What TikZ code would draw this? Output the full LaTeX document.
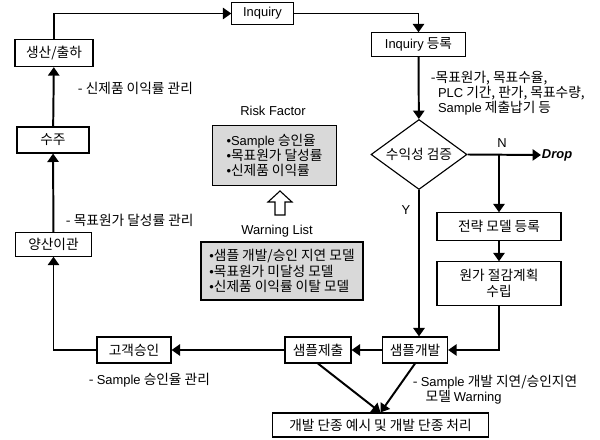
\documentclass[tikz,border=0pt]{standalone}
\usepackage{fontspec}
\setmainfont{Noto Sans CJK KR}[Scale=1.06]
\newfontfamily\latfont{Liberation Sans}
\newcommand{\lat}[1]{{\latfont #1}}
\usetikzlibrary{shapes,arrows.meta,positioning}

\begin{document}
\begin{tikzpicture}[
      x = 0.025cm, y = -0.025cm,
      > = {Triangle[length=6pt,width=8pt]},
      line width = 1.4pt,
      font = \fontsize{9.2}{10.8}\selectfont]
      \tikzstyle{box}=[
      draw = black,
      line width = 0.8pt,
      fill = white,
      inner sep = 1pt,
      minimum height = 0.58cm]
      \tikzstyle{list}=[box, fill = black!15, align = left]
      \tikzstyle{note}=[anchor = west, align = left, inner sep = 0pt]

      \useasboundingbox (0,0) rectangle (600,440);

      % process boxes
      \node[box, minimum width=1.53cm, minimum height=0.53cm] (inq) at (262.5,13.5) {\lat{Inquiry}};
      \node[box, minimum width=2.33cm] (inqreg) at (418.5,44.5) {\lat{Inquiry} 등록};
      \node[box, diamond, aspect=1.37, inner sep=0pt, minimum width=2.4cm, minimum height=1.75cm] (check) at (419,154.5) {수익성 검증};
      \node[note, inner sep=0pt] (drop) at (541,155) {\lat{\textbf{\textit{Drop}}}};
      \node[box, minimum width=3.1cm, minimum height=0.68cm] (strat) at (499,226.5) {전략 모델 등록};
      \node[box, align=center, minimum width=3.1cm, minimum height=1.08cm] (cost) at (499,283.5) {원가 절감계획\\[1pt]수립};
      \node[box, minimum width=1.63cm, minimum height=0.65cm] (dev) at (415,350) {샘플개발};
      \node[box, minimum width=1.65cm, minimum height=0.65cm] (submit) at (318,350) {샘플제출};
      \node[box, minimum width=1.85cm, minimum height=0.65cm] (approve) at (134,350) {고객승인};
      \node[box, minimum width=5.38cm, minimum height=0.6cm] (stop) at (380.5,425) {개발 단종 예시 및 개발 단종 처리};
      \node[box, minimum width=1.88cm] (mass) at (53.5,244.5) {양산이관};
      \node[box, minimum width=1.8cm, minimum height=0.65cm] (order) at (53,140) {수주};
      \node[box, minimum width=1.95cm, minimum height=0.68cm] (prod) at (54,53) {생산/출하};

      % risk and warning lists
      \node (riskl) at (273,111) {\lat{Risk Factor}};
      \node[list, minimum width=3.08cm, minimum height=1.48cm] (risk) at (274.5,155.5)
        {\lat{•Sample} 승인율\\\lat{•}목표원가 달성률\\\lat{•}신제품 이익률};
      \draw[line width=0.8pt, fill=white] (280,191) -- (292,202) -- (285,202) -- (285,215)
        -- (275,215) -- (275,202) -- (268,202) -- cycle;
      \node (warnl) at (277,231) {\lat{Warning List}};
      \node[list, minimum width=4.05cm, minimum height=1.45cm] (warn) at (282,271)
        {\lat{•}샘플 개발/승인 지연 모델\\\lat{•}목표원가 미달성 모델\\\lat{•}신제품 이익률 이탈 모델};

      % notes
      \node[note] (n1) at (430,93) {-목표원가, 목표수율,\\\hspace{5pt}\lat{PLC} 기간, 판가, 목표수량,\\\hspace{5pt}\lat{Sample} 제출납기 등};
      \node (nlab) at (502,143) {\lat{N}};
      \node (ylab) at (406,210) {\lat{Y}};
      \node[note] (n2) at (77,88) {- 신제품 이익률 관리};
      \node[note] (n3) at (65,220) {- 목표원가 달성률 관리};
      \node[note] (n4) at (88,380) {- \lat{Sample} 승인율 관리};
      \node[note] (n5) at (412,390) {- \lat{Sample} 개발 지연/승인지연\\\hspace{9pt}모델 \lat{Warning}};

      % flow
      \draw[->] (prod.north) |- (inq.west);
      \draw[->] (inq.east) -| (inqreg.north);
      \path[->] (inqreg) edge (check);
      \draw[->] (check.east) -- (drop.west);
      \coordinate (split) at (check.east -| strat.north);
      \path[->] (split) edge (strat);
      \path[->] (strat) edge (cost);
      \draw[->] (cost.south) |- (dev.east);
      \draw[->] (check.south) -- (check.south |- dev.north);
      \path[->] (dev) edge (submit);
      \path[->] (submit) edge (approve);
      \draw[->] (approve.west) -| (mass.south);
      \path[->] (mass) edge (order);
      \path[->] (order) edge (prod);
      \draw[->] (submit.south) -- (stop.north);
      \draw[->] (dev.south) -- (stop.north);
\end{tikzpicture}
\end{document}
